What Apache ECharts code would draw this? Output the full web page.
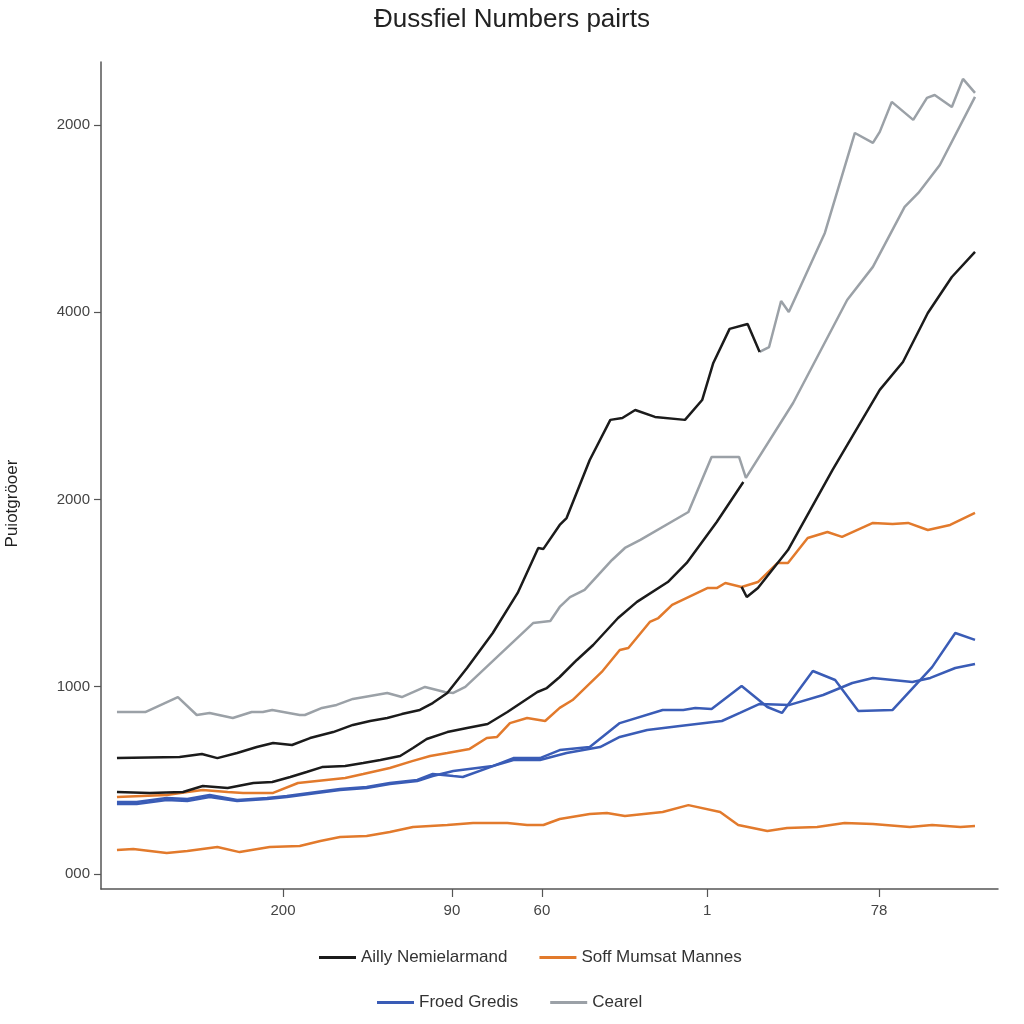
<!DOCTYPE html>
<html>
<head>
<meta charset="utf-8">
<script src="https://cdn.jsdelivr.net/npm/echarts@6/dist/echarts.min.js"></script>
<style>
html,body{margin:0;padding:0;background:#fff;}
#chart{width:1024px;height:1024px;}
</style>
</head>
<body>
<div id="chart"></div>
<script>
// ---- DATA ----
const titleText = "Đussfiel Numbers pairts";
const yAxisName = "Puiotgröoer";
const seriesNames = ["Ailly Nemielarmand", "Soff Mumsat Mannes", "Froed Gredis", "Cearel"];
const xTickValues = [19.35, 39.04, 49.53, 68.8, 88.81];
const xTickLabels = ["200", "90", "60", "1", "78"];
const yTickValues = [0, 1000, 2000, 3000, 4000];
const yTickLabels = ["000", "1000", "2000", "4000", "2000"];

// Black (Ailly Nemielarmand) lines
const blackUpper = [[0,619],[7.3,625],[9.9,641],[11.7,619],[14.0,646],[16.3,678],[18.2,700],[20.4,689],[22.5,726],[25.2,758],[27.5,796],[29.5,817],[31.5,833],[33.2,854],[35.3,876],[36.8,913],[38.5,967],[40.8,1100],[43.8,1287],[46.7,1501],[49.1,1741],[49.7,1736],[51.6,1864],[52.4,1901],[55.1,2211],[57.5,2425],[58.9,2435],[60.4,2478],[62.7,2441],[66.2,2425],[68.2,2531],[69.5,2729],[71.4,2911],[73.5,2937],[74.9,2788]];
const blackLower = [[0,438],[3.8,433],[7.7,438],[10.0,470],[12.9,459],[15.9,486],[18.1,491],[20.2,518],[22.1,545],[23.9,571],[26.6,577],[28.7,593],[30.7,609],[33.0,630],[34.5,673],[36.1,721],[38.5,758],[40.8,780],[43.2,801],[45.5,865],[49.0,972],[50.1,993],[51.6,1052],[53.6,1143],[55.5,1223],[58.4,1367],[60.6,1453],[64.2,1559],[66.4,1661],[69.9,1880],[73.0,2093]];
const blackRight = [[72.8,1533],[73.4,1479],[74.7,1527],[77.0,1661],[78.2,1730],[83.4,2158],[88.9,2585],[91.6,2734],[94.5,2996],[97.3,3188],[100,3322]];

// Orange (Soff Mumsat Mannes) lines
const orangeUpper = [[0,411],[5.8,422],[8.2,438],[10.0,449],[12.9,438],[14.7,433],[18.2,433],[21.1,486],[23.3,497],[26.6,513],[28.7,534],[31.8,566],[34.4,603],[36.5,630],[38.5,646],[41.1,668],[43.1,726],[44.3,732],[45.8,806],[47.8,833],[49.9,817],[51.6,887],[53.1,929],[56.5,1079],[58.6,1196],[59.6,1207],[62.1,1346],[63.1,1367],[64.7,1437],[68.8,1527],[69.9,1527],[70.9,1554],[72.8,1533],[74.7,1559],[77.0,1661],[78.2,1661],[80.5,1794],[82.8,1826],[84.5,1800],[88.1,1875],[90.4,1869],[92.2,1875],[94.5,1837],[97.1,1864],[100,1928]];
const orangeLower = [[0,128],[1.9,134],[5.8,112],[8.2,123],[11.7,144],[14.3,117],[17.8,144],[21.3,150],[23.7,176],[26.0,198],[29.1,203],[31.8,224],[34.5,251],[38.5,262],[41.5,272],[45.5,272],[47.8,262],[49.7,262],[51.6,294],[55.1,320],[57.1,326],[59.2,310],[63.6,331],[66.6,368],[70.3,331],[72.4,262],[75.8,230],[78.1,246],[81.6,251],[84.8,272],[88.1,267],[92.4,251],[95.0,262],[98.3,251],[100,256]];

// Blue (Froed Gredis) lines
const blueZigzag = [[0,385],[2.3,385],[5.8,406],[8.2,401],[10.8,422],[14.0,395],[17.5,406],[19.8,417],[23.3,438],[26.0,454],[29.1,465],[31.8,486],[35.0,502],[36.8,534],[39.2,523],[40.3,518],[43.5,571],[46.2,619],[49.3,619],[51.6,662],[55.1,678],[58.6,806],[63.6,876],[66.0,876],[67.4,887],[69.3,881],[72.8,1004],[75.8,892],[77.5,860],[81.1,1084],[83.7,1036],[86.4,870],[90.4,876],[95.0,1105],[97.7,1287],[100,1250]];
const blueSmooth = [[0,374],[2.3,374],[5.8,395],[8.2,390],[10.8,411],[14.0,390],[17.5,401],[19.8,411],[23.3,433],[26.0,449],[29.1,459],[31.8,481],[35.0,497],[36.8,523],[39.2,550],[43.8,577],[46.2,609],[49.3,609],[52.4,646],[56.3,678],[58.6,732],[61.8,769],[65.6,790],[70.5,817],[72.6,860],[74.9,908],[78.4,903],[82.3,956],[85.7,1020],[88.1,1047],[92.7,1025],[94.8,1047],[97.7,1100],[100,1121]];

// Gray (Cearel) lines
const grayMain = [[0,865],[3.3,865],[7.1,945],[9.3,849],[10.8,860],[13.5,833],[15.7,865],[17.0,865],[18.1,876],[21.3,849],[21.9,849],[23.9,887],[25.6,903],[27.5,935],[29.5,951],[31.5,967],[33.2,945],[35.9,999],[38.2,972],[39.2,967],[40.6,999],[48.5,1340],[50.5,1351],[51.6,1426],[52.8,1479],[54.5,1517],[57.7,1677],[59.2,1741],[61.0,1784],[66.6,1933],[69.3,2227],[72.5,2227],[73.3,2115],[78.8,2515],[85.1,3065],[88.1,3242],[91.8,3562],[93.4,3637],[95.9,3786],[100,4150]];
const grayUpper = [[74.9,2788],[76.0,2814],[77.4,3060],[78.3,3001],[82.5,3423],[86.0,3957],[88.1,3904],[88.9,3963],[90.3,4123],[92.8,4027],[94.4,4144],[95.3,4160],[97.3,4096],[98.6,4246],[100,4171]];

// ---- STYLE ----
const colors = { black: "#1b1b1b", orange: "#e27a2c", blue: "#3a5cb6", gray: "#9ba1a7" };
const font = "Liberation Sans, Arial, sans-serif";

function mkLine(name, data, color) {
  return {
    name: name, type: "line", data: data, symbol: "none", smooth: false,
    color: color,
    lineStyle: { width: 2.5, color: color },
    animation: false
  };
}

function nearestLabel(vals, labels, v) {
  let best = 0, bd = Infinity;
  for (let i = 0; i < vals.length; i++) {
    const d = Math.abs(vals[i] - v);
    if (d < bd) { bd = d; best = i; }
  }
  return labels[best];
}

const chart = echarts.init(document.getElementById("chart"), null, { renderer: "canvas" });
chart.setOption({
  backgroundColor: "#ffffff",
  animation: false,
  title: {
    text: titleText, left: "center", top: 2,
    textStyle: { fontFamily: font, fontSize: 26, fontWeight: "normal", color: "#222" }
  },
  legend: [
    {
      data: [seriesNames[0], seriesNames[1]], left: 314, top: 944,
      icon: "rect", itemWidth: 37, itemHeight: 3, itemGap: 32,
      textStyle: { fontFamily: font, fontSize: 17, color: "#333" }
    },
    {
      data: [seriesNames[2], seriesNames[3]], left: 372, top: 989,
      icon: "rect", itemWidth: 37, itemHeight: 3, itemGap: 32,
      textStyle: { fontFamily: font, fontSize: 17, color: "#333" }
    }
  ],
  grid: { left: 101, right: 26, top: 62, bottom: 135, containLabel: false, outerBoundsMode: "none" },
  xAxis: {
    type: "value", min: -1.86, max: 102.68,
    axisLine: { show: true, onZero: false, lineStyle: { color: "#555", width: 1.5 } },
    axisTick: { show: true, customValues: xTickValues, length: 8, lineStyle: { color: "#555", width: 1.2 } },
    axisLabel: {
      customValues: xTickValues, margin: 14,
      formatter: function (v) { return nearestLabel(xTickValues, xTickLabels, v); },
      fontFamily: font, fontSize: 15, color: "#444"
    },
    splitLine: { show: false }
  },
  yAxis: {
    type: "value", min: -80, max: 4336,
    name: yAxisName, nameLocation: "middle", nameGap: 80, nameRotate: 90, nameMoveOverlap: false,
    nameTextStyle: { fontFamily: font, fontSize: 17, color: "#222", padding: [0, 56, 0, 0] },
    axisLine: { show: true, onZero: false, lineStyle: { color: "#555", width: 1.5 } },
    axisTick: { show: true, customValues: yTickValues, length: 7, lineStyle: { color: "#555", width: 1.2 } },
    axisLabel: {
      customValues: yTickValues, margin: 11,
      formatter: function (v) { return nearestLabel(yTickValues, yTickLabels, v); },
      fontFamily: font, fontSize: 15, color: "#444"
    },
    splitLine: { show: false }
  },
  series: [
    mkLine(seriesNames[1], orangeLower, colors.orange),
    mkLine(seriesNames[2], blueSmooth, colors.blue),
    mkLine(seriesNames[2], blueZigzag, colors.blue),
    mkLine(seriesNames[3], grayMain, colors.gray),
    mkLine(seriesNames[3], grayUpper, colors.gray),
    mkLine(seriesNames[1], orangeUpper, colors.orange),
    mkLine(seriesNames[0], blackUpper, colors.black),
    mkLine(seriesNames[0], blackLower, colors.black),
    mkLine(seriesNames[0], blackRight, colors.black)
  ]
});
</script>
</body>
</html>
